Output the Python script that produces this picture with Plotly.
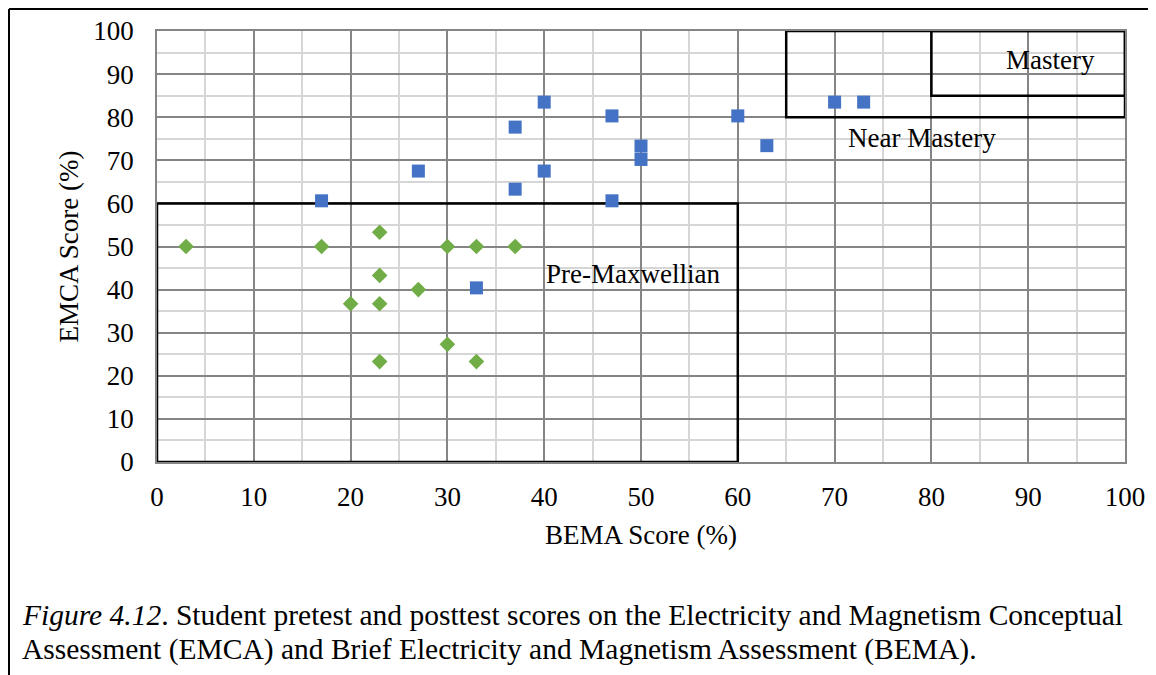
import plotly.graph_objects as go

# pretest (green diamonds) and posttest (blue squares) scores, in %
pre_bema = [3, 17, 20, 23, 23, 23, 23, 27, 30, 30, 33, 33, 37]
pre_emca = [50, 50, 36.7, 53.3, 43.3, 36.7, 23.3, 40, 50, 27.3, 50, 23.3, 50]

post_bema = [17, 27, 33, 37, 37, 40, 40, 47, 47, 50, 50, 60, 63, 70, 73]
post_emca = [60.6, 67.5, 40.4, 77.7, 63.3, 83.5, 67.5, 80.3, 60.6, 73.3, 70.2, 80.3, 73.4, 83.5, 83.5]

# regions: name, x0, x1, y0, y1, label x, label y
region_names = ['Pre-Maxwellian', 'Near Mastery', 'Mastery']
region_x0 = [0, 65, 80]
region_x1 = [60, 100, 100]
region_y0 = [0, 80, 85]
region_y1 = [60, 100, 100]
label_x = [49.2, 79.0, 92.3]
label_y = [43.6, 75.2, 93.3]

tick_vals = list(range(0, 101, 10))

FONT = 'Liberation Serif'
OFF = 8  # page body margin
W, H = 1156 - OFF, 675 - OFF
# plot area in screen pixels: x 157..1125, y 31..462
L, T = 157 - OFF, 31 - OFF
R, B = W - (1125 - OFF), H - (462 - OFF)
PW, PH = W - L - R, H - T - B


def px_x(p):
    # screen pixel x -> paper coordinate
    return (p - OFF - L) / PW


def px_y(p):
    # screen pixel y -> paper coordinate
    return (H - B - (p - OFF)) / PH


fig = go.Figure()

fig.add_trace(go.Scatter(
    x=pre_bema, y=pre_emca, mode='markers', name='Pretest',
    marker=dict(symbol='diamond', size=12, color='#70AD47'),
))
fig.add_trace(go.Scatter(
    x=post_bema, y=post_emca, mode='markers', name='Posttest',
    marker=dict(symbol='square', size=13, color='#4472C4'),
))

# region boxes and labels
for name, x0, x1, y0, y1, lx, ly in zip(region_names, region_x0, region_x1,
                                        region_y0, region_y1, label_x, label_y):
    fig.add_shape(type='rect', x0=x0, x1=x1, y0=y0, y1=y1, xref='x', yref='y',
                  line=dict(color='black', width=2.5), layer='between')
    fig.add_annotation(x=lx, y=ly, xref='x', yref='y', text=name, showarrow=False,
                       font=dict(family=FONT, size=27, color='black'))

# page frame (left and top edges)
fig.add_shape(type='line', xref='paper', yref='paper',
              x0=px_x(9), x1=px_x(9), y0=px_y(9), y1=px_y(680),
              line=dict(color='black', width=2))
fig.add_shape(type='line', xref='paper', yref='paper',
              x0=px_x(9), x1=px_x(1160), y0=px_y(9), y1=px_y(9),
              line=dict(color='black', width=2))

# caption
caption_lines = [
    '<i>Figure 4.12</i>. Student pretest and posttest scores on the Electricity and Magnetism Conceptual',
    'Assessment (EMCA) and Brief Electricity and Magnetism Assessment (BEMA).',
]
for line, yc in zip(caption_lines, [615, 649]):
    fig.add_annotation(
        xref='paper', yref='paper', x=px_x(20), y=px_y(yc),
        xanchor='left', yanchor='middle', align='left', showarrow=False,
        text=line, font=dict(family=FONT, size=29.5, color='black'),
    )

axis_common = dict(
    range=[0, 100], tickvals=tick_vals, showgrid=True, gridcolor='#858585', gridwidth=1.6,
    minor=dict(dtick=5, showgrid=True, gridcolor='#d6d6d6', gridwidth=1.6),
    showline=True, linecolor='#858585', linewidth=1.6, mirror=True,
    zeroline=False, ticks='', tickfont=dict(family=FONT, size=27, color='black'),
    automargin=False, fixedrange=True,
)

fig.update_xaxes(**axis_common, ticklabelstandoff=10,
                 title=dict(text='BEMA Score (%)', standoff=14,
                            font=dict(family=FONT, size=27, color='black')))
fig.update_yaxes(**axis_common, ticklabelstandoff=16,
                 title=dict(text='EMCA Score (%)', standoff=7,
                            font=dict(family=FONT, size=27, color='black')))

fig.update_layout(
    width=W, height=H,
    margin=dict(l=L, r=R, t=T, b=B),
    paper_bgcolor='white', plot_bgcolor='white',
    showlegend=False,
)

fig.write_html("out.html")
